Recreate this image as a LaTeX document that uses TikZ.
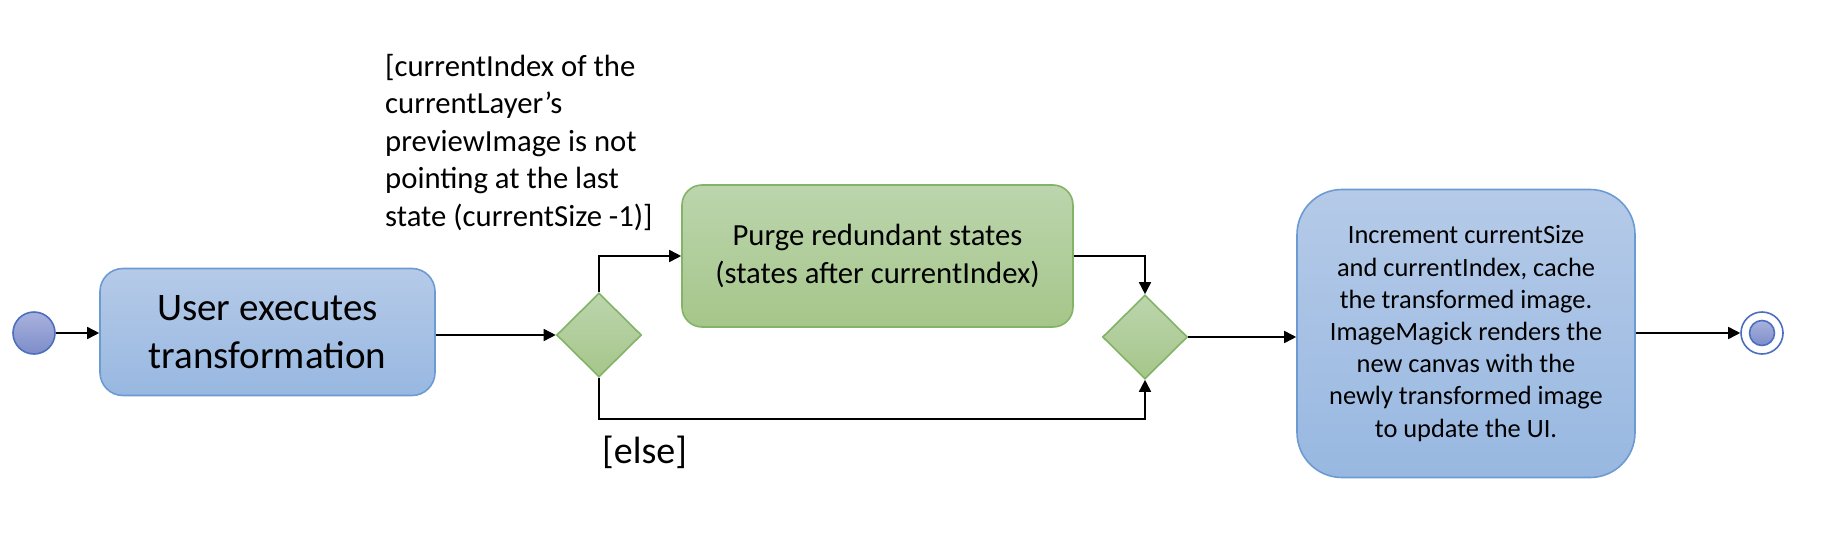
\documentclass[tikz,border=0pt]{standalone}
\usepackage{fontspec}
\setmainfont{Carlito}
\usetikzlibrary{arrows.meta,shapes.geometric}
\definecolor{blueTop}{HTML}{B5CAE8}
\definecolor{blueBot}{HTML}{98B8E1}
\definecolor{blueBorder}{HTML}{6C9BD3}
\definecolor{greenTop}{HTML}{BCD5AD}
\definecolor{greenBot}{HTML}{A5C68A}
\definecolor{greenBorder}{HTML}{82B366}
\definecolor{dotTop}{HTML}{A9B2DE}
\definecolor{dotBot}{HTML}{7E8DC9}
\definecolor{dotBorder}{HTML}{4C6EC0}
\begin{document}
\begin{tikzpicture}[x=1pt,y=-1pt,
  flow/.style={line width=1.6pt,-{Triangle[length=12pt,width=12pt]}},
  bluebox/.style={draw=blueBorder,line width=1.6pt,top color=blueTop,bottom color=blueBot,align=center,inner sep=0pt},
  greenbox/.style={draw=greenBorder,line width=1.6pt,top color=greenTop,bottom color=greenBot,align=center,inner sep=0pt,rounded corners=20pt},
  decision/.style={diamond,draw=greenBorder,line width=1.6pt,top color=greenTop,bottom color=greenBot,minimum width=85pt,minimum height=84pt,inner sep=0pt},
  dot/.style={circle,draw=dotBorder,line width=1.6pt,top color=dotTop,bottom color=dotBot,inner sep=0pt},
  guard/.style={inner sep=0pt,align=left}
]
\useasboundingbox (0,0) rectangle (1844,546);

\node[dot,minimum size=42pt] (start) at (34,333) {};
\node[bluebox,rounded corners=23pt,minimum width=335pt,minimum height=127pt,
      font=\fontsize{39}{47.6}\selectfont] (b1) at (267.5,332) {User executes\\transformation};
\node[decision] (d1) at (599,335) {};
\node[greenbox,minimum width=391pt,minimum height=142pt,
      font=\fontsize{30.7}{37.4}\selectfont] (b2) at (877.5,256) {Purge redundant states\\(states after currentIndex)};
\node[decision] (d2) at (1145,337) {};
\node[bluebox,rounded corners=45pt,minimum width=338pt,minimum height=288pt,
      font=\fontsize{26.4}{32.2}\selectfont] (b3) at (1466,333.5)
  {Increment currentSize\\and currentIndex, cache\\the transformed image.\\ImageMagick renders the\\new canvas with the\\newly transformed image\\to update the UI.};
\node[circle,draw=dotBorder,line width=1.6pt,fill=white,minimum size=42pt,inner sep=0pt] (endo) at (1762,333) {};
\node[dot,minimum size=25pt] (endi) at (endo) {};

\node[guard,anchor=north west,font=\fontsize{30.7}{37.5}\selectfont] (cond) at (385,54)
  {[currentIndex of the\\currentLayer’s\\previewImage is not\\pointing at the last\\state (currentSize -1)]};
\node[inner sep=0pt,anchor=base west,font=\fontsize{38}{46}\selectfont] (elsel) at (602,463) {[else]};

\draw[flow] (start.east) -- (start.east -| b1.west);
\draw[flow] (b1.east |- d1) -- (d1.west);
\draw[flow] (d1.north) |- (b2.west);
\draw[flow] (b2.east) -| (d2.north);
\draw[flow] (d1.south) -- ++(0,41) -| (d2.south);
\draw[flow] (d2.east) -- (d2.east -| b3.west);
\draw[flow] (b3.east |- endo) -- (endo.west);
\end{tikzpicture}
\end{document}
